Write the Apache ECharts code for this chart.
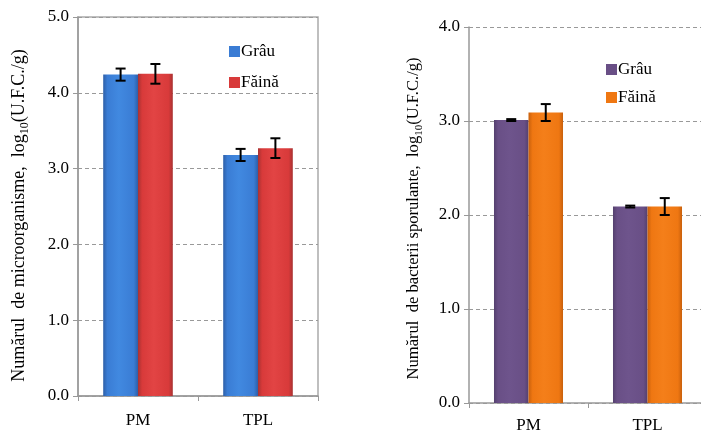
<!DOCTYPE html>
<html><head><meta charset="utf-8">
<script src="https://cdn.jsdelivr.net/npm/echarts@6/dist/echarts.min.js"></script>
<style>html,body{margin:0;padding:0;background:#fff}#c{width:701px;height:430px}</style>
</head><body><div id="c"></div>
<script>
const categories = ['PM', 'TPL'];
const seriesNames = ['Grâu', 'Făină'];
// Left panel: total microorganisms
const microGrau = [4.24, 3.18];
const microFaina = [4.25, 3.27];
const microGrauErr = [0.08, 0.08];
const microFainaErr = [0.13, 0.13];
// Right panel: spore-forming bacteria
const sporGrau = [3.01, 2.09];
const sporFaina = [3.09, 2.09];
const sporGrauErr = [0.01, 0.01];
const sporFainaErr = [0.09, 0.09];
const leftTicks = [0, 1, 2, 3, 4, 5];
const rightTicks = [0, 1, 2, 3, 4];

const FONT = "'Liberation Serif', 'Times New Roman', serif";
const GAP = 0.42;
function grad(dark, mid, light) {
  return new echarts.graphic.LinearGradient(0, 0, 1, 0, [
    {offset: 0, color: dark}, {offset: 0.12, color: mid}, {offset: 0.45, color: light},
    {offset: 0.88, color: mid}, {offset: 1, color: dark}]);
}
const colBlue = grad('#2d5fa8', '#3a7cd4', '#4189e0');
const colRed = grad('#a83232', '#d83a3a', '#e24444');
const colPurple = grad('#54406e', '#694f86', '#6e548c');
const colOrange = grad('#c8600c', '#ef7712', '#f47f1a');

function errData(vals, errs) {
  return vals.map((v, i) => [i, v - errs[i], v + errs[i]]);
}
function errSeries(xi, vals, errs, side) {
  return {
    type: 'custom', xAxisIndex: xi, yAxisIndex: xi, silent: true, z: 10,
    data: errData(vals, errs),
    encode: {x: 0, y: [1, 2]},
    renderItem: function (params, api) {
      const cat = api.value(0);
      const lo = api.coord([cat, api.value(1)]);
      const hi = api.coord([cat, api.value(2)]);
      const band = api.size([1, 0])[0];
      const bw = band * (1 - GAP) / 2;
      const x = lo[0] + side * bw / 2;
      const cap = 5;
      const st = {stroke: '#000', lineWidth: 2};
      return {type: 'group', children: [
        {type: 'line', shape: {x1: x, y1: lo[1], x2: x, y2: hi[1]}, style: st},
        {type: 'line', shape: {x1: x - cap, y1: lo[1], x2: x + cap, y2: lo[1]}, style: st},
        {type: 'line', shape: {x1: x - cap, y1: hi[1], x2: x + cap, y2: hi[1]}, style: st}
      ]};
    }
  };
}
function yAx(gi, max, ticks, title, gap, fs, shift) {
  return {
    type: 'value', gridIndex: gi, min: 0, max: max, interval: 1,
    axisLine: {show: true, lineStyle: {color: '#999', width: 1.5}},
    axisTick: {show: true, length: 5, lineStyle: {color: '#999'}},
    axisLabel: {fontFamily: FONT, fontSize: 17, color: '#000', margin: 9,
      formatter: v => ticks.indexOf(v) >= 0 ? v.toFixed(1) : ''},
    splitLine: {show: true, lineStyle: {color: '#999', type: [4, 3]}},
    name: title, nameLocation: 'middle', nameRotate: 90, nameGap: gap,
    nameTextStyle: {fontFamily: FONT, fontSize: fs, color: '#000', padding: [0, shift, 0, 0],
      rich: {sub: {fontFamily: FONT, fontSize: Math.round(fs * 0.65), color: '#000', verticalAlign: 'bottom', padding: [0, 0, -3, 0]}}}
  };
}
function xAx(gi, margin) {
  return {
    type: 'category', gridIndex: gi, data: categories,
    axisLine: {show: true, lineStyle: {color: '#999', width: 1.5}},
    axisTick: {show: true, alignWithLabel: false, length: 5, lineStyle: {color: '#999'}},
    axisLabel: {fontFamily: FONT, fontSize: 17, color: '#000', margin: margin}
  };
}
const legendText = {fontFamily: FONT, fontSize: 17, color: '#000', padding: [0, 0, 0, -4]};
const chart = echarts.init(document.getElementById('c'));
chart.setOption({
  animation: false,
  backgroundColor: '#fff',
  grid: [
    {left: 78, right: 383, top: 17, bottom: 34, show: true, borderColor: '#aaa', borderWidth: 1.5, outerBoundsMode: 'none', containLabel: false},
    {left: 469, right: -6, top: 27, bottom: 27, outerBoundsMode: 'none', containLabel: false}
  ],
  xAxis: [xAx(0, 16), xAx(1, 14)],
  yAxis: [
    yAx(0, 5, leftTicks, 'Numărul  de microorganisme,  log{sub|10}(U.F.C./g)', 50, 18, 18),
    yAx(1, 4, rightTicks, 'Numărul  de bacterii sporulante,  log{sub|10}(U.F.C./g)', 47, 16.6, 7)
  ],
  legend: [
    {orient: 'vertical', left: 224, top: 38, itemGap: 14, itemWidth: 11, itemHeight: 11, icon: 'rect',
      textStyle: legendText,
      data: [{name: seriesNames[0], itemStyle: {color: '#3a7cd4'}}, {name: seriesNames[1], itemStyle: {color: '#d83a3a'}}]},
    {orient: 'vertical', left: 601, top: 56, itemGap: 11, itemWidth: 11, itemHeight: 11, icon: 'rect',
      textStyle: legendText,
      data: [{name: seriesNames[0], itemStyle: {color: '#694f86'}}, {name: seriesNames[1], itemStyle: {color: '#ef7712'}}]}
  ],
  series: [
    {name: seriesNames[0], type: 'bar', xAxisIndex: 0, yAxisIndex: 0, data: microGrau, barGap: '0%', barCategoryGap: '42%', itemStyle: {color: colBlue}},
    {name: seriesNames[1], type: 'bar', xAxisIndex: 0, yAxisIndex: 0, data: microFaina, barGap: '0%', barCategoryGap: '42%', itemStyle: {color: colRed}},
    {name: seriesNames[0], type: 'bar', xAxisIndex: 1, yAxisIndex: 1, data: sporGrau, barGap: '0%', barCategoryGap: '42%', itemStyle: {color: colPurple}},
    {name: seriesNames[1], type: 'bar', xAxisIndex: 1, yAxisIndex: 1, data: sporFaina, barGap: '0%', barCategoryGap: '42%', itemStyle: {color: colOrange}},
    errSeries(0, microGrau, microGrauErr, -1),
    errSeries(0, microFaina, microFainaErr, 1),
    errSeries(1, sporGrau, sporGrauErr, -1),
    errSeries(1, sporFaina, sporFainaErr, 1)
  ]
});
</script></body></html>
